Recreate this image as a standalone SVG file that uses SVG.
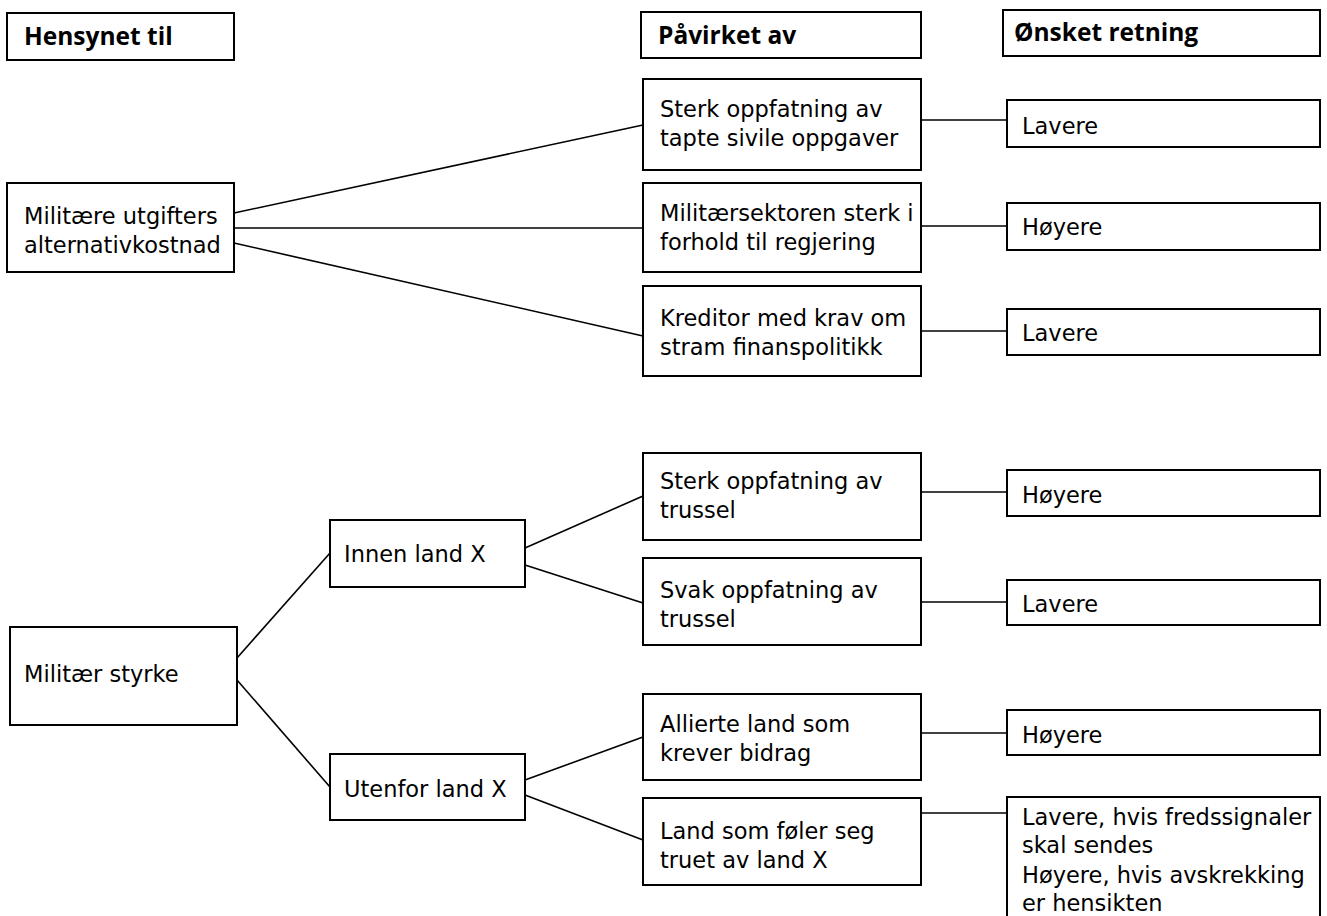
<svg xmlns="http://www.w3.org/2000/svg" width="1327" height="916" viewBox="0 0 1327 916">
<style>
rect{fill:#fff;stroke:#000;stroke-width:2}
text{font-family:"DejaVu Sans","Liberation Sans",sans-serif;font-size:22.5px;fill:#000}
.h{font-family:"Open Sans","Liberation Sans",sans-serif;font-weight:bold;font-size:24.5px}
#connectors line{stroke:#000;stroke-width:1.6}
</style>
<rect x="0" y="0" width="1327" height="916" style="stroke:none"/>
<g id="connectors">
<line x1="234" y1="213" x2="643" y2="125"/>
<line x1="234" y1="228" x2="643" y2="228"/>
<line x1="234" y1="243" x2="643" y2="336"/>
<line x1="921" y1="120" x2="1007" y2="120"/>
<line x1="921" y1="226" x2="1007" y2="226"/>
<line x1="921" y1="331" x2="1007" y2="331"/>
<line x1="237" y1="658" x2="330" y2="553"/>
<line x1="237" y1="680" x2="330" y2="787"/>
<line x1="525" y1="548" x2="643" y2="496"/>
<line x1="525" y1="565" x2="643" y2="603"/>
<line x1="525" y1="780" x2="643" y2="737"/>
<line x1="525" y1="795" x2="643" y2="840"/>
<line x1="921" y1="492" x2="1007" y2="492"/>
<line x1="921" y1="602" x2="1007" y2="602"/>
<line x1="921" y1="733" x2="1007" y2="733"/>
<line x1="921" y1="813" x2="1007" y2="813"/>
</g>
<g id="h1"><rect x="7" y="13" width="227" height="47"/><text class="h" x="24" y="45">Hensynet til</text></g>
<g id="h2"><rect x="641" y="12" width="280" height="46"/><text class="h" x="658" y="44">Påvirket av</text></g>
<g id="h3"><rect x="1003" y="10" width="317" height="46"/><text class="h" x="1014" y="41">Ønsket retning</text></g>
<g id="n-alt"><rect x="7" y="183" width="227" height="89"/><text x="24" y="224">Militære utgifters<tspan x="24" dy="29">alternativkostnad</tspan></text></g>
<g id="n-tapte"><rect x="643" y="79" width="278" height="91"/><text x="660" y="117">Sterk oppfatning av<tspan x="660" dy="29">tapte sivile oppgaver</tspan></text></g>
<g id="n-milsek"><rect x="643" y="183" width="278" height="89"/><text x="660" y="221">Militærsektoren sterk i<tspan x="660" dy="29">forhold til regjering</tspan></text></g>
<g id="n-kred"><rect x="643" y="286" width="278" height="90"/><text x="660" y="326">Kreditor med krav om<tspan x="660" dy="29">stram finanspolitikk</tspan></text></g>
<g id="r1"><rect x="1007" y="100" width="313" height="47"/><text x="1022" y="134">Lavere</text></g>
<g id="r2"><rect x="1007" y="203" width="313" height="47"/><text x="1022" y="235">Høyere</text></g>
<g id="r3"><rect x="1007" y="309" width="313" height="46"/><text x="1022" y="341">Lavere</text></g>
<g id="n-styrke"><rect x="10" y="627" width="227" height="98"/><text x="24" y="682">Militær styrke</text></g>
<g id="n-innen"><rect x="330" y="520" width="195" height="67"/><text x="344" y="562">Innen land X</text></g>
<g id="n-utenfor"><rect x="330" y="754" width="195" height="66"/><text x="344" y="797">Utenfor land X</text></g>
<g id="n-sterk"><rect x="643" y="453" width="278" height="87"/><text x="660" y="489">Sterk oppfatning av<tspan x="660" dy="29">trussel</tspan></text></g>
<g id="n-svak"><rect x="643" y="558" width="278" height="87"/><text x="660" y="598">Svak oppfatning av<tspan x="660" dy="29">trussel</tspan></text></g>
<g id="n-allierte"><rect x="643" y="694" width="278" height="86"/><text x="660" y="732">Allierte land som<tspan x="660" dy="29">krever bidrag</tspan></text></g>
<g id="n-land"><rect x="643" y="798" width="278" height="87"/><text x="660" y="839">Land som føler seg<tspan x="660" dy="29">truet av land X</tspan></text></g>
<g id="r4"><rect x="1007" y="470" width="313" height="46"/><text x="1022" y="503">Høyere</text></g>
<g id="r5"><rect x="1007" y="580" width="313" height="45"/><text x="1022" y="612">Lavere</text></g>
<g id="r6"><rect x="1007" y="710" width="313" height="45"/><text x="1022" y="743">Høyere</text></g>
<g id="r7"><rect x="1007" y="797" width="313" height="125"/><text x="1022" y="825">Lavere, hvis fredssignaler<tspan x="1022" dy="28">skal sendes</tspan><tspan x="1022" dy="30">Høyere, hvis avskrekking</tspan><tspan x="1022" dy="28">er hensikten</tspan></text></g>
</svg>
